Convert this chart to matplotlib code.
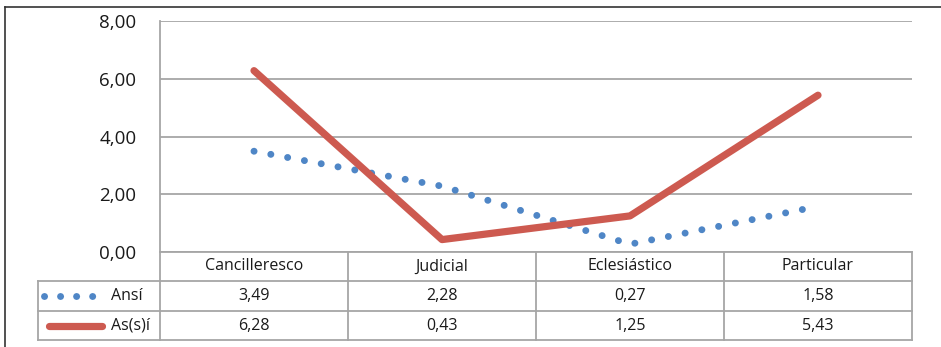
import matplotlib
matplotlib.use("Agg")
import matplotlib.pyplot as plt
from matplotlib.lines import Line2D

plt.rcParams["font.family"] = ["Open Sans", "DejaVu Sans"]

categories = ["Cancilleresco", "Judicial", "Eclesiástico", "Particular"]
series_names = ["Ansí", "As(s)í"]
ansi = [3.49, 2.28, 0.27, 1.58]
assi = [6.28, 0.43, 1.25, 5.43]
yticks = [0, 2, 4, 6, 8]

BLUE, RED, GRID, TXT = "#4F86C6", "#CD5A50", "#A6A6A6", "#1A1A1A"

W, H = 941, 347
fig = plt.figure(figsize=(W / 100, H / 100), dpi=100)

# pixel-space overlay for the frame and the data table
px = fig.add_axes([0, 0, 1, 1])
px.set_xlim(0, W); px.set_ylim(H, 0); px.axis("off")

# plot area (pixel bounds)
L, R, T, B = 160, 912, 21, 252
ax = fig.add_axes([L / W, 1 - B / H, (R - L) / W, (B - T) / H])
ax.set_xlim(-0.5, len(categories) - 0.5)
ax.set_ylim(0, 8)
ax.set_yticks(yticks)
ax.set_yticklabels([f"{v:.2f}".replace(".", ",") for v in yticks], fontsize=13.5, color=TXT)
ax.tick_params(axis="y", length=0, pad=17)
ax.set_xticks([])
for s in ["top", "right", "bottom"]:
    ax.spines[s].set_visible(False)
ax.spines["left"].set_color(GRID)
ax.spines["left"].set_linewidth(1.3)
ax.grid(axis="y", color=GRID, lw=1.3)
ax.set_axisbelow(True)
ax.patch.set_alpha(0)

x = range(len(categories))
dotted = dict(color=BLUE, lw=5, linestyle=(0, (0.01, 2.45)), dash_capstyle="round")
solid = dict(color=RED, lw=5.2, solid_capstyle="round", solid_joinstyle="round")
ax.plot(x, ansi, **dotted)
ax.plot(x, assi, **solid)

# outer frame
px.plot([5, 5], [7, H], color="#333333", lw=1.2)
px.plot([5, W], [7, 7], color="#333333", lw=1.2)

# data table below the axis
cols = [L + i * (R - L) / len(categories) for i in range(len(categories) + 1)]
rows = [B, 281, 311, 340]
LEG = 38
tkw = dict(color=GRID, lw=1.3)
px.plot([L, R], [rows[0], rows[0]], **tkw)
for yy in rows[1:]:
    px.plot([LEG, R], [yy, yy], **tkw)
px.plot([LEG, LEG], [rows[1], rows[3]], **tkw)
for xx in cols:
    px.plot([xx, xx], [rows[0], rows[3]], **tkw)

FS = 11.5
for i, cat in enumerate(categories):
    cx = (cols[i] + cols[i + 1]) / 2
    px.text(cx, (rows[0] + rows[1]) / 2, cat, ha="center", va="center", fontsize=FS, color=TXT)
    for r, vals in enumerate([ansi, assi]):
        px.text(cx, (rows[r + 1] + rows[r + 2]) / 2, f"{vals[i]:.2f}".replace(".", ","),
                ha="center", va="center", fontsize=FS, color=TXT)

# legend keys in the first table column
legend_dots = dict(dotted, linestyle=(0, (0.01, 2.3)))
keys = [(legend_dots, 44, 107), (solid, 49, 102)]
for r, (name, (style, x0, x1)) in enumerate(zip(series_names, keys)):
    yy = (rows[r + 1] + rows[r + 2]) / 2
    px.add_line(Line2D([x0, x1], [yy, yy], **style))
    px.text(111, yy, name, ha="left", va="center", fontsize=FS, color=TXT)

fig.savefig("out.png", dpi=100)
